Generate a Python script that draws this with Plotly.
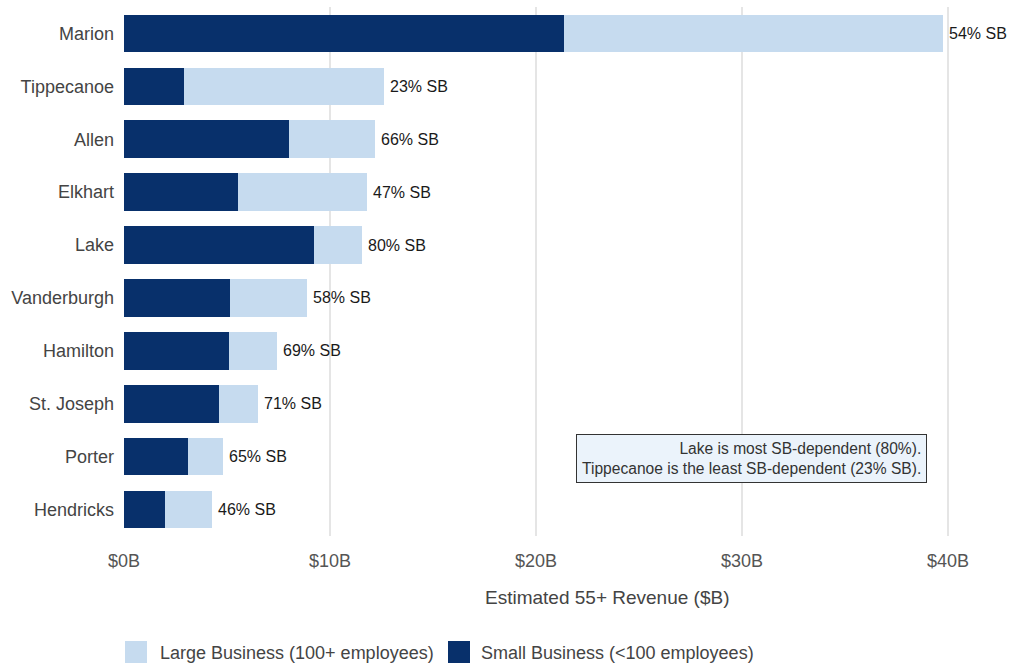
import plotly.graph_objects as go

# County revenue from customers aged 55+, split by business size ($B)
counties = ["Marion", "Tippecanoe", "Allen", "Elkhart", "Lake",
            "Vanderburgh", "Hamilton", "St. Joseph", "Porter", "Hendricks"]
small_biz = [21.36, 2.91, 8.01, 5.55, 9.22, 5.15, 5.12, 4.60, 3.11, 1.97]
large_biz = [18.41, 9.71, 4.17, 6.25, 2.33, 3.73, 2.30, 1.90, 1.70, 2.30]
x_ticks = [0, 10, 20, 30, 40]
x_tick_labels = ["$0B", "$10B", "$20B", "$30B", "$40B"]

totals = [s + l for s, l in zip(small_biz, large_biz)]
sb_share = [s / t * 100 for s, t in zip(small_biz, totals)]
share_labels = [f"{round(p)}% SB" for p in sb_share]

DARK = "#08306B"
LIGHT = "#C6DBEF"
FONT = "Arial, Liberation Sans, sans-serif"

W, H = 1011, 667
ML, MR, MT, MB = 124, 10, 7, 131
PW, PH = W - ML - MR, H - MT - MB


def px_x(x):
    return (x - ML) / PW


def px_y(y):
    return (H - MB - y) / PH


fig = go.Figure()
fig.add_trace(go.Bar(
    y=counties, x=small_biz, orientation="h", name="Small Business (<100 employees)",
    marker=dict(color=DARK, line=dict(width=0)), showlegend=False,
))
fig.add_trace(go.Bar(
    y=counties, x=large_biz, orientation="h", name="Large Business (100+ employees)",
    marker=dict(color=LIGHT, line=dict(width=0)), showlegend=False,
))

annotations = []
# Small-business share printed just past the end of each stacked bar
for county, total, label in zip(counties, totals, share_labels):
    annotations.append(dict(
        x=total, y=county, xref="x", yref="y", xanchor="left", yanchor="middle",
        xshift=4, showarrow=False, text=label,
        font=dict(family=FONT, size=16, color="#1a1a1a"),
    ))

# Axis title
annotations.append(dict(
    xref="paper", yref="paper", x=px_x(607), y=px_y(597), xanchor="center", yanchor="middle",
    showarrow=False, text="Estimated 55+ Revenue ($B)",
    font=dict(family=FONT, size=19, color="#444444"),
))

# Legend row drawn below the axis title
legend_items = [
    (LIGHT, "Large Business (100+ employees)", 125, 158),
    (DARK, "Small Business (<100 employees)", 448, 479),
]
shapes = []
for color, label, sx, tx in legend_items:
    shapes.append(dict(type="rect", xref="paper", yref="paper",
                       x0=px_x(sx), x1=px_x(sx + 22), y0=px_y(641), y1=px_y(663),
                       fillcolor=color, line=dict(width=0)))
    annotations.append(dict(xref="paper", yref="paper", x=px_x(tx), y=px_y(653),
                            xanchor="left", yanchor="middle", showarrow=False,
                            text=label, font=dict(family=FONT, size=18, color="#444444")))

annotations.append(dict(
    xref="paper", yref="paper", x=px_x(927), y=px_y(483), xanchor="right", yanchor="bottom",
    showarrow=False, align="right",
    text="Lake is most SB-dependent (80%).<br>Tippecanoe is the least SB-dependent (23% SB).",
    font=dict(family=FONT, size=15.6, color="#333333"),
    bgcolor="#EBF3FB", bordercolor="#333333", borderwidth=1, borderpad=5,
))

fig.update_layout(
    barmode="stack", bargap=0.29,
    width=W, height=H,
    margin=dict(l=ML, r=MR, t=MT, b=MB),
    plot_bgcolor="white", paper_bgcolor="white",
    font=dict(family=FONT, color="#444444"),
    shapes=shapes, annotations=annotations,
    xaxis=dict(
        range=[0, PW / 20.6], tickvals=x_ticks, ticktext=x_tick_labels,
        showgrid=True, gridcolor="#E5E5E5", gridwidth=2, zeroline=False,
        ticks="outside", ticklen=8, tickcolor="white",
        tickfont=dict(family=FONT, size=18, color="#555555"),
        showline=False,
    ),
    yaxis=dict(
        categoryorder="array", categoryarray=counties, autorange="reversed",
        showgrid=False, zeroline=False, showline=False,
        ticks="", ticklabelstandoff=9,
        tickfont=dict(family=FONT, size=18, color="#444444"),
    ),
)

fig.write_html("out.html")
